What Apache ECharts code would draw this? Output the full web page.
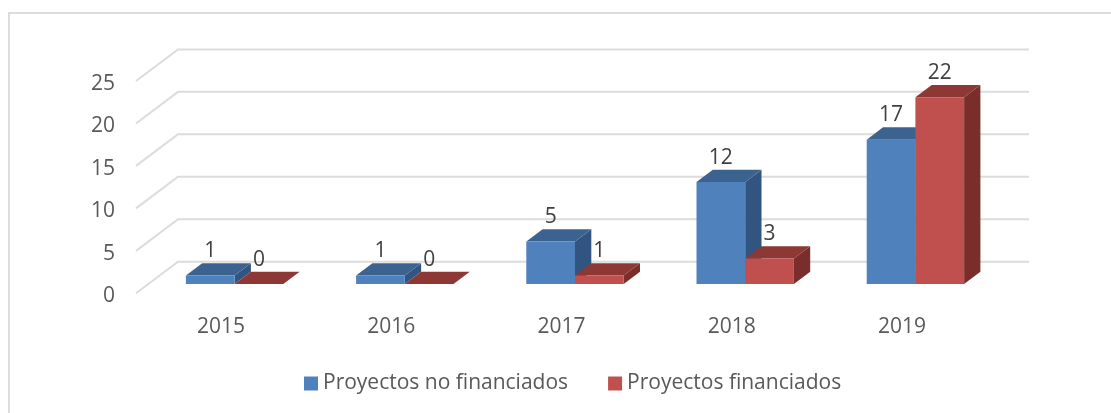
<!DOCTYPE html>
<html>
<head>
<meta charset="utf-8">
<style>
  html, body { margin: 0; padding: 0; background: #fff; }
  #chart { width: 1111px; height: 413px; }
</style>
<script src="https://cdn.jsdelivr.net/npm/echarts@6/dist/echarts.min.js"></script>
</head>
<body>
<div id="chart"></div>
<script>
const years = ['2015', '2016', '2017', '2018', '2019']
const noFinanciados = [1, 1, 5, 12, 17]
const financiados = [0, 0, 1, 3, 22]
const yTicks = [0, 5, 10, 15, 20, 25]

// fake 3d: offsets of the back wall and of the bars, in px
const wallDx = 42, wallDy = -31.6
const barDx = 13.5, barDy = -9.3
const sideDx = 16.3, sideDy = -12.3
const barWidth = 48.7

const fontFamily = '"Open Sans", Lato, sans-serif'

function gridRender(params, api) {
  const rect = params.coordSys
  const y = api.coord([0, api.value(0)])[1]
  return {
    type: 'polyline',
    shape: {
      points: [
        [rect.x, y],
        [rect.x + wallDx, y + wallDy],
        [rect.x + rect.width + wallDx, y + wallDy]
      ]
    },
    style: { stroke: '#dcdcdc', lineWidth: 2, fill: 'none' }
  }
}

function barRender(seriesIndex, colors) {
  return function (params, api) {
    const val = api.value(1)
    const c = api.coord([api.value(0), val])
    const base = api.coord([api.value(0), 0])
    const x0 = c[0] + barDx + (seriesIndex - 1) * barWidth
    const x1 = x0 + barWidth
    const top = c[1] + barDy
    const bottom = base[1] + barDy
    const children = [
      {
        type: 'polygon',
        shape: { points: [[x1, top], [x1 + sideDx, top + sideDy], [x1 + sideDx, bottom + sideDy], [x1, bottom]] },
        style: { fill: colors.side }
      },
      {
        type: 'polygon',
        shape: { points: [[x0, top], [x0 + sideDx, top + sideDy], [x1 + sideDx, top + sideDy], [x1, top]] },
        style: { fill: colors.top }
      },
      {
        type: 'rect',
        shape: { x: x0, y: top, width: barWidth, height: bottom - top },
        style: { fill: colors.front }
      },
      {
        type: 'text',
        z2: 10,
        style: {
          x: x0 + barWidth / 2,
          y: top + sideDy - 12,
          text: String(val),
          fill: '#404040',
          font: '21px ' + fontFamily,
          align: 'center',
          verticalAlign: 'middle'
        }
      }
    ]
    return { type: 'group', children: children }
  }
}

const blue = { front: '#4f81bd', top: '#3c6290', side: '#325480' }
const red = { front: '#c0504d', top: '#8e3836', side: '#7a2e2c' }

const chart = echarts.init(document.getElementById('chart'), null, { renderer: 'canvas' })
chart.setOption({
  animation: false,
  backgroundColor: '#fff',
  graphic: [
    { type: 'line', shape: { x1: 9, y1: 13, x2: 1111, y2: 13 }, style: { stroke: '#dcdcdc', lineWidth: 2 } },
    { type: 'line', shape: { x1: 9, y1: 12, x2: 9, y2: 413 }, style: { stroke: '#dcdcdc', lineWidth: 2 } }
  ],
  grid: { left: 136, width: 851, top: 81, height: 212.3 },
  legend: {
    left: 299,
    top: 368,
    itemWidth: 14,
    itemHeight: 14,
    itemGap: 40,
    icon: 'rect',
    data: ['Proyectos no financiados', 'Proyectos financiados'],
    textStyle: { color: '#595959', fontSize: 21, fontFamily: fontFamily }
  },
  xAxis: {
    type: 'category',
    data: years,
    axisLine: { show: false },
    axisTick: { show: false },
    axisLabel: { color: '#595959', fontSize: 21, fontFamily: fontFamily, margin: 23 }
  },
  yAxis: {
    type: 'value',
    min: 0,
    max: 25,
    interval: 5,
    axisLine: { show: false },
    axisTick: { show: false },
    splitLine: { show: false },
    axisLabel: { color: '#595959', fontSize: 21, fontFamily: fontFamily, margin: 21, verticalAlign: 'top', lineHeight: 6 }
  },
  series: [
    {
      type: 'custom',
      silent: true,
      z: 1,
      data: yTicks.map(v => [v]),
      encode: { y: 0 },
      renderItem: gridRender
    },
    {
      name: 'Proyectos no financiados',
      type: 'custom',
      z: 2,
      itemStyle: { color: blue.front },
      data: years.map((y, i) => [i, noFinanciados[i]]),
      encode: { x: 0, y: 1 },
      renderItem: barRender(0, blue)
    },
    {
      name: 'Proyectos financiados',
      type: 'custom',
      z: 3,
      itemStyle: { color: red.front },
      data: years.map((y, i) => [i, financiados[i]]),
      encode: { x: 0, y: 1 },
      renderItem: barRender(1, red)
    }
  ]
})
</script>
</body>
</html>
